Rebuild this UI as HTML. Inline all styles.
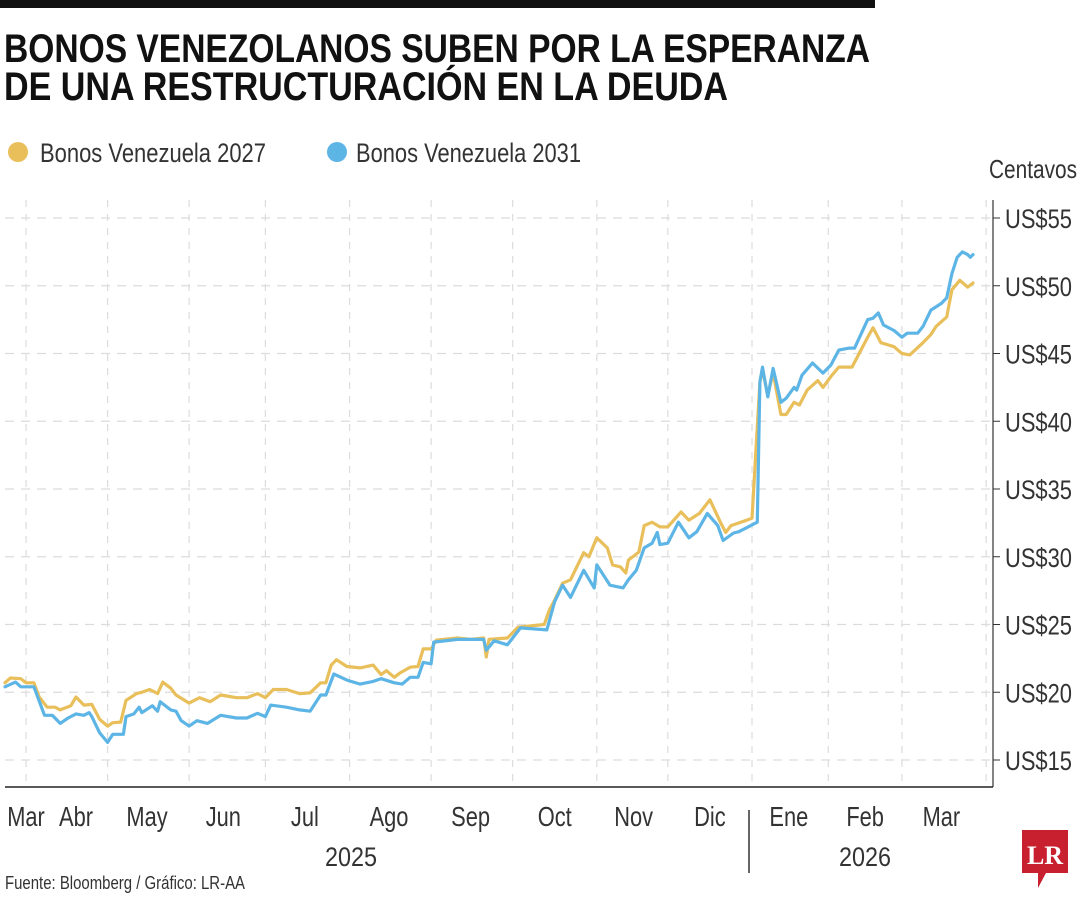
<!DOCTYPE html>
<html><head><meta charset="utf-8">
<style>
html,body{margin:0;padding:0;background:#fff;}
svg{display:block;font-family:"Liberation Sans Narrow","Liberation Sans",sans-serif;}
</style></head>
<body>
<svg id="chart" width="1080" height="900" viewBox="0 0 1080 900">
<rect x="0" y="0" width="875" height="8" fill="#111"/>
<text x="4" y="62" font-size="40" font-weight="bold" fill="#111" textLength="866" lengthAdjust="spacingAndGlyphs">BONOS VENEZOLANOS SUBEN POR LA ESPERANZA</text>
<text x="4" y="100" font-size="40" font-weight="bold" fill="#111" textLength="724" lengthAdjust="spacingAndGlyphs">DE UNA RESTRUCTURACIÓN EN LA DEUDA</text>
<g>
<g>
<circle cx="18" cy="152" r="10" fill="#e8bf5a"/>
<text x="40" y="162" font-size="27" fill="#333" textLength="226" lengthAdjust="spacingAndGlyphs">Bonos Venezuela 2027</text>
</g>
<g>
<circle cx="337" cy="152" r="10" fill="#5db5e6"/>
<text x="356" y="162" font-size="27" fill="#333" textLength="225" lengthAdjust="spacingAndGlyphs">Bonos Venezuela 2031</text>
</g>
</g>
<text x="1077" y="178" font-size="26" fill="#333" text-anchor="end" textLength="88" lengthAdjust="spacingAndGlyphs">Centavos</text>
<g id="grid"></g>
<g id="series"></g>
<g id="axes"></g>
<line x1="749" y1="810" x2="749" y2="873" stroke="#333" stroke-width="1.5"/>
<text x="351" y="866" font-size="27" fill="#333" text-anchor="middle" textLength="52" lengthAdjust="spacingAndGlyphs">2025</text>
<text x="865" y="866" font-size="27" fill="#333" text-anchor="middle" textLength="52" lengthAdjust="spacingAndGlyphs">2026</text>
<text x="5" y="889" font-size="18" fill="#333" textLength="240" lengthAdjust="spacingAndGlyphs">Fuente: Bloomberg / Gráfico: LR-AA</text>
<g>
<path d="M1022,830 h46 v43 h-22 l-8,15 v-15 h-16 z" fill="#c8202f"/>
<text x="1045" y="864" font-size="26" font-weight="bold" fill="#fff" text-anchor="middle" font-family="Liberation Serif, serif">LR</text>
</g>
</svg>
<script>
const days2027 = [0,2,6,8,11,13,16,19,21,25,27,30,33,36,39,41,44,46,50,52,55,58,60,63,65,70,74,78,82,88,92,96,99,102,107,112,116,120,122,124,126,130,135,140,143,145,148,150,154,157,159,162,164,172,177,182,183,184,191,195,205,207,209,212,215,220,222,225,229,231,234,236,237,241,243,246,249,252,257,260,264,268,272,274,276,279,282,284,287,288,290,292,295,297,300,302,305,309,311,314,317,322,328,330,333,338,341,344,349,352,354,358,360,363,366,368];
const values2027 = [20.7,21.05,21.0,20.7,20.7,19.65,18.9,18.9,18.7,19.0,19.65,19.05,19.1,18.0,17.5,17.75,17.8,19.4,19.9,20.0,20.2,19.9,20.75,20.3,19.8,19.2,19.6,19.3,19.8,19.6,19.6,19.9,19.6,20.2,20.2,19.9,19.95,20.7,20.7,22.0,22.4,21.9,21.8,22.0,21.3,21.6,21.1,21.4,21.85,21.9,23.2,23.2,23.85,24.0,23.9,24.0,22.6,23.9,24.0,24.8,25.0,26.1,26.8,28.05,28.3,30.3,30.0,31.4,30.65,29.4,29.25,28.8,29.75,30.35,32.3,32.55,32.2,32.2,33.3,32.7,33.2,34.2,32.55,31.8,32.3,32.5,32.7,32.85,42.9,43.8,41.9,43.6,40.5,40.5,41.4,41.2,42.3,43.0,42.5,43.3,44.0,44.0,46.2,46.9,45.8,45.5,45.0,44.9,45.8,46.4,47.0,47.7,49.7,50.4,49.9,50.2];
const days2031 = [0,4,6,11,15,18,21,24,27,30,32,33,36,39,41,45,46,49,51,52,56,58,59,63,65,67,70,73,77,82,88,92,96,99,101,107,112,116,120,122,125,130,135,140,143,148,151,154,157,159,162,163,172,178,182,183,186,191,196,206,209,212,215,220,224,225,230,235,237,240,243,246,248,249,252,256,260,263,267,271,273,277,279,286,287,288,290,292,295,297,300,301,303,307,311,314,317,321,323,328,330,332,334,338,341,343,347,349,352,356,358,360,362,364,366,367,368];
const values2031 = [20.4,20.75,20.4,20.4,18.3,18.3,17.7,18.1,18.4,18.3,18.5,18.2,17.0,16.3,16.9,16.9,18.2,18.4,18.9,18.5,19.0,18.6,19.3,18.7,18.6,17.9,17.5,17.9,17.7,18.3,18.1,18.1,18.45,18.2,19.05,18.9,18.7,18.6,19.8,19.8,21.35,20.9,20.6,20.8,21.0,20.7,20.6,21.1,21.1,22.2,22.1,23.7,23.9,23.9,23.9,23.1,23.8,23.5,24.75,24.6,26.7,27.9,27.0,29.0,27.7,29.4,27.9,27.7,28.3,29.0,30.65,31.0,31.8,30.9,31.0,32.55,31.4,31.85,33.2,32.3,31.2,31.75,31.85,32.55,42.9,44.0,41.8,43.9,41.4,41.7,42.5,42.3,43.4,44.3,43.55,44.15,45.25,45.4,45.4,47.5,47.6,48.0,47.1,46.7,46.2,46.5,46.5,47.0,48.2,48.7,49.1,50.9,52.1,52.5,52.3,52.1,52.3];
const yTicks = [15,20,25,30,35,40,45,50,55];
const monthLabels = ["Mar","Abr","May","Jun","Jul","Ago","Sep","Oct","Nov","Dic","Ene","Feb","Mar"];
const monthLabelDays = [8,27,54,83,114,146,177,209,239,268,298,327,356];
const gridDays = [8,39,70,99,131,162,193,225,252,284,313,341,373];

const NS = "http://www.w3.org/2000/svg";
const X0 = 5, X1 = 994, D0 = 0, D1 = 376;
const Y0 = 760, Y1 = 218, V0 = 15, V1 = 55;
function xScale(d){ return X0 + (d - D0) / (D1 - D0) * (X1 - X0); }
function yScale(v){ return Y0 + (v - V0) / (V1 - V0) * (Y1 - Y0); }
function mk(tag, attrs, parent){ const e = document.createElementNS(NS, tag); for (const k in attrs) e.setAttribute(k, attrs[k]); parent.appendChild(e); return e; }
function narrow(t, f){ const w = t.getComputedTextLength(); t.setAttribute("textLength", (w * f).toFixed(1)); t.setAttribute("lengthAdjust", "spacingAndGlyphs"); }

const grid = document.getElementById("grid");
const axes = document.getElementById("axes");
const series = document.getElementById("series");

gridDays.forEach(d => {
  const l = mk("line", {x1: xScale(d), x2: xScale(d), y1: 200, y2: 787, stroke: "#dcdcdc", "stroke-width": 1.2, "stroke-dasharray": "7,7"}, grid);
  
  
});
yTicks.forEach(v => {
  const y = yScale(v);
  const l = mk("line", {x1: 5, x2: 993, y1: y, y2: y, stroke: "#dcdcdc", "stroke-width": 1.2, "stroke-dasharray": "9,7"}, grid);
  
  
  const t = mk("line", {x1: 993, x2: 1000, y1: y, y2: y, stroke: "#333", "stroke-width": 1}, axes);
  
  
  const tx = mk("text", {x: 1005, y: y + 10, "font-size": 27, fill: "#333"}, axes);
  tx.textContent = "US$" + v;
  
  
  tx.setAttribute("textLength", "67");
  tx.setAttribute("lengthAdjust", "spacingAndGlyphs");
});
const xa = mk("line", {x1: 5, x2: 993, y1: 787, y2: 787, stroke: "#222", "stroke-width": 1.5}, axes);


const ya = mk("line", {x1: 993, x2: 993, y1: 200, y2: 787, stroke: "#333", "stroke-width": 1.2}, axes);


monthLabels.forEach((m, i) => {
  const t = mk("text", {x: xScale(monthLabelDays[i]), y: 826, "font-size": 28, fill: "#333", "text-anchor": "middle"}, axes);
  t.textContent = m;
  
  
  narrow(t, 0.78);
});
function drawLine(ds, vs, color, name){
  const pts = ds.map((d, i) => xScale(d).toFixed(1) + "," + yScale(vs[i]).toFixed(1)).join(" ");
  const p = mk("polyline", {points: pts, fill: "none", stroke: color, "stroke-width": 3.2, "stroke-linejoin": "round", "stroke-linecap": "round"}, series);
  
  
}
drawLine(days2027, values2027, "#e8bf5a", "line-bonos-2027");
drawLine(days2031, values2031, "#5db5e6", "line-bonos-2031");
</script>
</body></html>
